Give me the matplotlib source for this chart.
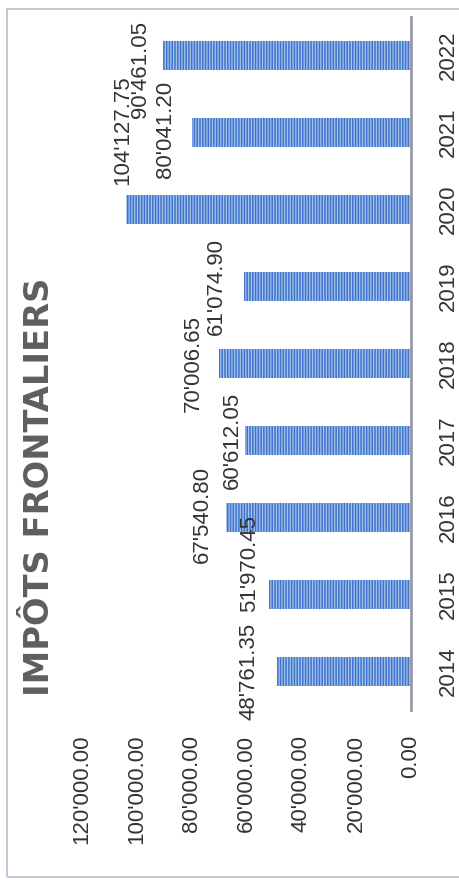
import matplotlib
matplotlib.use("Agg")
import matplotlib.pyplot as plt
from matplotlib.patches import Rectangle

# Données (chiffres)
annees = ["2014", "2015", "2016", "2017", "2018", "2019", "2020", "2021", "2022"]
montants = [48761.35, 51970.45, 67540.80, 60612.05, 70006.65, 61074.90, 104127.75, 80041.20, 90461.05]
etiquettes = ["48'761.35", "51'970.45", "67'540.80", "60'612.05", "70'006.65",
              "61'074.90", "104'127.75", "80'041.20", "90'461.05"]
graduations = [0, 20000, 40000, 60000, 80000, 100000, 120000]
graduations_txt = ["0.00", "20'000.00", "40'000.00", "60'000.00", "80'000.00",
                   "100'000.00", "120'000.00"]
titre = "IMPÔTS FRONTALIERS"

# décalage des étiquettes (pixels) : écart au bout de la barre, glissement vers le haut
ecart_px = [23, 13, 18, 7, 20, 21, -3, 20, 17]
glisse_px = [0, 31, 3, 0, 0, 0, 79, 3, -14]

plt.rcParams['font.family'] = ['Liberation Sans', 'DejaVu Sans']
plt.rcParams['hatch.linewidth'] = 0.9

W, H = 460, 881
fig = plt.figure(figsize=(W / 100, H / 100), dpi=100)
fig.patch.set_facecolor("white")

# le graphique est scanné pivoté de 90°, on le dessine donc en barres horizontales
ax = fig.add_axes([82 / W, (H - 710) / H, (411 - 82) / W, (710 - 17) / H])
pos = list(range(len(annees)))
ax.barh(pos, montants, height=0.37, color="#3d75cc", edgecolor="#a9c3ec",
        hatch="||||||", linewidth=0)

ax.set_xlim(120000, 0)
ax.set_ylim(-0.5, len(annees) - 0.5)

for s in ["top", "left", "bottom"]:
    ax.spines[s].set_visible(False)
ax.spines["right"].set_color("#9a9aa6")
ax.spines["right"].set_linewidth(2)

ax.yaxis.tick_right()
ax.set_yticks(pos)
ax.set_yticklabels(annees, rotation=90, va="center", fontsize=16, color="#333333")
ax.tick_params(axis="y", length=0, pad=19)

ax.set_xticks(graduations)
ax.set_xticklabels(graduations_txt, rotation=90, fontsize=16, color="#333333")
ax.tick_params(axis="x", length=0, pad=18)

for p, v, t, e, g in zip(pos, montants, etiquettes, ecart_px, glisse_px):
    ax.annotate(t, (v, p), xytext=(-(e - 4.7), g), textcoords="offset pixels",
                rotation=90, ha="right", va="center", fontsize=16, color="#333333")

fig.text(40 / W, 1 - 487 / H, titre, rotation=90, ha="center", va="center",
         fontsize=24.3, fontweight="bold", color="#5e5e5e", family="DejaVu Sans")

# cadre du graphique
fig.add_artist(Rectangle((7, H - 877), 470, 868, transform=None, fill=False,
                         edgecolor="#b8bdd0", linewidth=1.2))

fig.savefig("out.png", dpi=100)
